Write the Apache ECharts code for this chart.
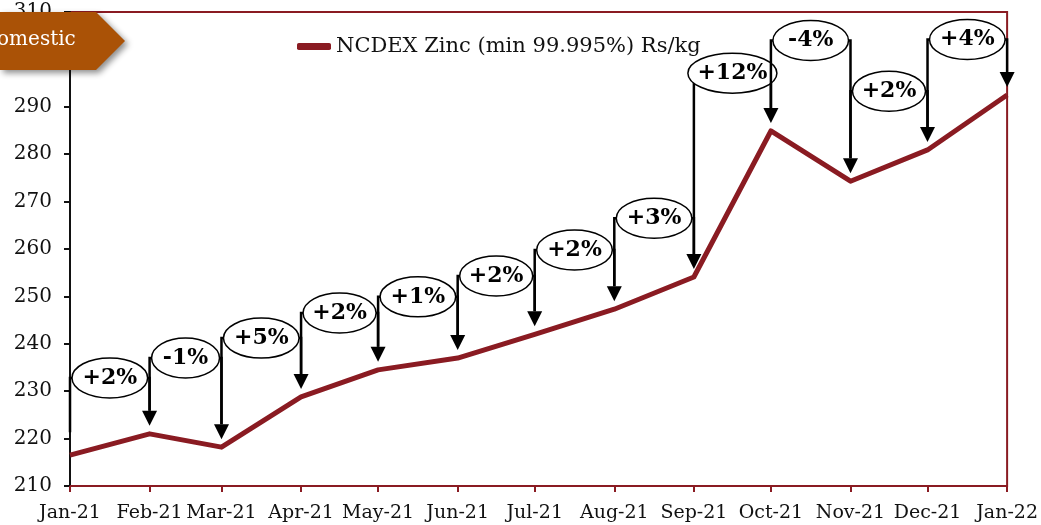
<!DOCTYPE html>
<html>
<head>
<meta charset="utf-8">
<script src="https://cdn.jsdelivr.net/npm/echarts@6/dist/echarts.min.js"></script>
<style>
  html, body { margin: 0; padding: 0; background: #fff; }
  #chart { width: 1041px; height: 525px; }
</style>
</head>
<body>
<div id="chart"></div>
<script>
// monthly price, NCDEX Zinc (min 99.995%) Rs/kg
const months = ['2021-01-01', '2021-02-01', '2021-03-01', '2021-04-01', '2021-05-01', '2021-06-01', '2021-07-01',
  '2021-08-01', '2021-09-01', '2021-10-01', '2021-11-01', '2021-12-01', '2022-01-01'];
const price = [216.5, 221.0, 218.2, 228.8, 234.5, 237.0, 242.0, 247.3, 254.1, 284.9, 274.3, 280.9, 292.5];
// month-on-month change callouts and the height (Rs/kg) at which each sits
const calloutText = ['+2%', '-1%', '+5%', '+2%', '+1%', '+2%', '+2%', '+3%', '+12%', '-4%', '+2%', '+4%'];
const calloutLevel = [232.8, 237.0, 241.2, 246.5, 249.9, 254.3, 259.8, 266.5, 297.1, 304.0, 293.3, 304.2];
const yTicks = { min: 210, max: 310, step: 10 };
const monthNames = ['Jan', 'Feb', 'Mar', 'Apr', 'May', 'Jun', 'Jul', 'Aug', 'Sep', 'Oct', 'Nov', 'Dec'];

const SERIF = '"DejaVu Serif", Georgia, serif';
const RED = '#8a1b22';

function toTime (s) {
  const p = s.split('-');
  return new Date(+p[0], +p[1] - 1, +p[2]).getTime();
}
const times = months.map(toTime);

const lineData = times.map((t, i) => [t, price[i]]);
const calloutData = [];
for (let i = 1; i < times.length; i++) {
  calloutData.push([times[i - 1], times[i], price[i - 1], price[i], calloutLevel[i - 1]]);
}

function renderCallout (params, api) {
  const i = params.dataIndex;
  const a = api.coord([api.value(0), api.value(2)]);
  const b = api.coord([api.value(1), api.value(3)]);
  const y = api.coord([api.value(0), api.value(4)])[1];
  const gap = 8, head = 15, hw = 7.5;
  const cx = (a[0] + b[0]) / 2;
  const txt = calloutText[i];
  const rx = (b[0] - a[0]) / 2 - 2 + (txt.length - 3) * 8;
  return {
    type: 'group',
    children: [
      {
        type: 'polyline',
        shape: { points: [[a[0], a[1] - gap - head], [a[0], y], [b[0], y], [b[0], b[1] - gap - head]] },
        style: { stroke: '#000', lineWidth: 2.5, fill: null }
      },
      {
        type: 'polygon',
        shape: { points: [[b[0] - hw, b[1] - gap - head], [b[0] + hw, b[1] - gap - head], [b[0], b[1] - gap]] },
        style: { fill: '#000' }
      },
      {
        type: 'ellipse',
        shape: { cx: cx, cy: y, rx: rx, ry: 20 },
        style: { fill: '#fff', stroke: '#000', lineWidth: 1.5 }
      },
      {
        type: 'text',
        x: cx,
        y: y,
        style: { text: txt, fill: '#000', font: 'bold 22px ' + SERIF, align: 'center', verticalAlign: 'middle' }
      }
    ]
  };
}

const chart = echarts.init(document.getElementById('chart'));
chart.setOption({
  animation: false,
  backgroundColor: '#fff',
  grid: {
    left: 70, right: 33, top: 12, bottom: 39,
    show: true, borderColor: RED, borderWidth: 2, backgroundColor: 'transparent'
  },
  legend: {
    left: 292, top: 31,
    icon: 'roundRect',
    itemWidth: 34, itemHeight: 7,
    itemGap: 10,
    textStyle: { fontFamily: SERIF, fontSize: 21, color: '#111' },
    data: ['NCDEX Zinc (min 99.995%) Rs/kg']
  },
  xAxis: {
    type: 'time',
    min: times[0],
    max: times[times.length - 1],
    splitNumber: 12,
    minInterval: 28 * 864e5,
    maxInterval: 31 * 864e5,
    axisLine: { lineStyle: { color: RED, width: 2 } },
    axisTick: { show: true, length: 6, lineStyle: { color: RED, width: 2 } },
    axisLabel: {
      fontFamily: SERIF, fontSize: 19, color: '#111', margin: 18,
      showMinLabel: true, showMaxLabel: true,
      formatter: function (v) {
        const d = new Date(v);
        return monthNames[d.getMonth()] + '-' + String(d.getFullYear()).slice(2);
      }
    },
    splitLine: { show: false }
  },
  yAxis: {
    type: 'value',
    min: yTicks.min, max: yTicks.max, interval: yTicks.step,
    axisLine: { show: true, lineStyle: { color: '#111', width: 2 } },
    axisTick: { show: true, length: 6, lineStyle: { color: '#111', width: 2 } },
    axisLabel: { fontFamily: SERIF, fontSize: 20, color: '#111', margin: 18 },
    splitLine: { show: false }
  },
  series: [
    {
      name: 'NCDEX Zinc (min 99.995%) Rs/kg',
      type: 'line',
      data: lineData,
      symbol: 'none',
      itemStyle: { color: RED },
      lineStyle: { color: RED, width: 5, join: 'round' },
      z: 3
    },
    {
      type: 'custom',
      renderItem: renderCallout,
      data: calloutData,
      encode: { x: [0, 1], y: [2, 3, 4] },
      clip: false,
      silent: true,
      z: 4
    }
  ],
  graphic: [
    {
      type: 'polygon',
      z: 100,
      shape: { points: [[0, 12], [96, 12], [125, 41], [96, 70], [0, 70]] },
      style: { fill: '#aa5206', shadowBlur: 6, shadowOffsetX: 3, shadowOffsetY: 3, shadowColor: 'rgba(0,0,0,0.45)' }
    },
    {
      type: 'text',
      z: 101,
      left: -19,
      top: 30,
      style: { text: 'Domestic', fill: '#fff', font: '20px ' + SERIF }
    }
  ]
});
</script>
</body>
</html>
